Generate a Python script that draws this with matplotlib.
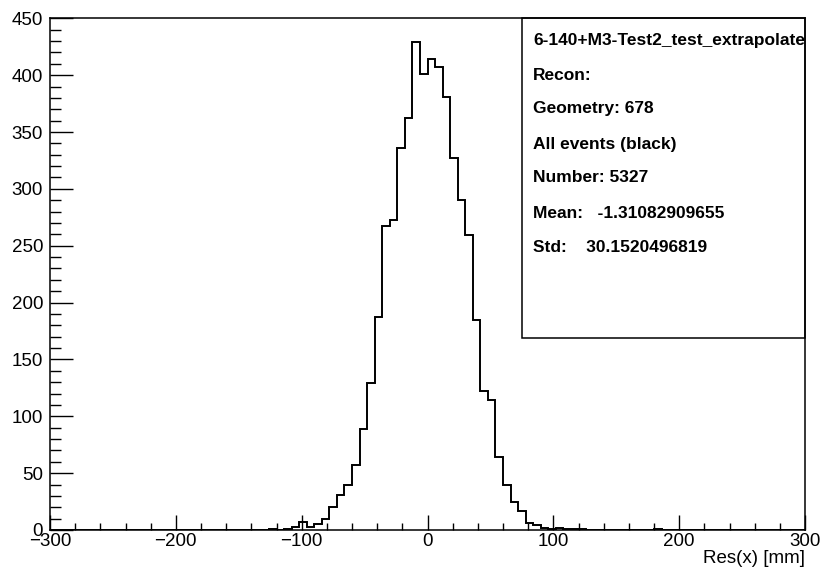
import numpy as np
import matplotlib
matplotlib.use("Agg")
from matplotlib import pyplot as plt
from matplotlib.ticker import MultipleLocator

plt.rcParams['font.family'] = ['Liberation Sans', 'DejaVu Sans']

# histogram: 100 bins of 6 mm between -300 and 300
x_min, x_max, n_bins = -300, 300, 100
# counts of the bins from -126 mm to +126 mm
core_start = -126
core_counts = [1, 0, 1, 3, 7, 3, 5, 10, 20, 31, 40, 57, 89, 129, 187, 267, 273,
               336, 362, 429, 401,
               414, 407, 381, 327, 290, 259, 185, 122, 114, 64, 40, 25, 17,
               6, 4, 2, 1, 2, 1, 1, 1]
# single stray entries outside the core
stray_lo = [180]
stray_counts = [1]

stats_lines = ["6-140+M3-Test2_test_extrapolate",
               "Recon:",
               "Geometry: 678",
               "All events (black)",
               "Number: 5327",
               "Mean:   -1.31082909655",
               "Std:    30.1520496819"]

edges = np.linspace(x_min, x_max, n_bins + 1)
width = (x_max - x_min) / n_bins
counts = np.zeros(n_bins)
i0 = int(round((core_start - x_min) / width))
counts[i0:i0 + len(core_counts)] = core_counts
for lo, c in zip(stray_lo, stray_counts):
    counts[int(round((lo - x_min) / width))] = c

fig = plt.figure(figsize=(8.23, 5.75), dpi=100)
ax = fig.add_axes([50/823, 1-530/575, 755/823, 511.7/575])

ax.stairs(counts, edges, color="black", linewidth=1.4)

ax.set_xlim(x_min, x_max)
ax.set_ylim(0, 450)

# ROOT like axes: ticks inside, only left and bottom
ax.xaxis.set_major_locator(MultipleLocator(100))
ax.xaxis.set_minor_locator(MultipleLocator(20))
ax.yaxis.set_major_locator(MultipleLocator(50))
ax.yaxis.set_minor_locator(MultipleLocator(10))
ax.tick_params(axis="x", which="major", direction="in", length=10.8, width=1, labelsize=13.5, pad=2)
ax.tick_params(axis="x", which="minor", direction="in", length=5.4, width=1)
ax.tick_params(axis="y", which="major", direction="in", length=16.6, width=1, labelsize=13.5, pad=5)
ax.tick_params(axis="y", which="minor", direction="in", length=8, width=1)
for s in ax.spines.values():
    s.set_linewidth(1.1)

ax.set_xlabel("Res(x) [mm]", fontsize=13.5, loc="right", labelpad=0)

# stats box
ax.add_patch(plt.Rectangle((472/755, 0.375), 1-472/755, 0.625, transform=ax.transAxes,
                           fill=False, edgecolor="black", linewidth=1.1, clip_on=False))
ys = [0.956, 0.889, 0.823, 0.754, 0.688, 0.619, 0.553]
for y, t in zip(ys, stats_lines):
    ax.text(483/755, y, t, transform=ax.transAxes, fontsize=12.5, fontweight="bold",
            va="center", ha="left")

fig.savefig("out.png", dpi=100)
